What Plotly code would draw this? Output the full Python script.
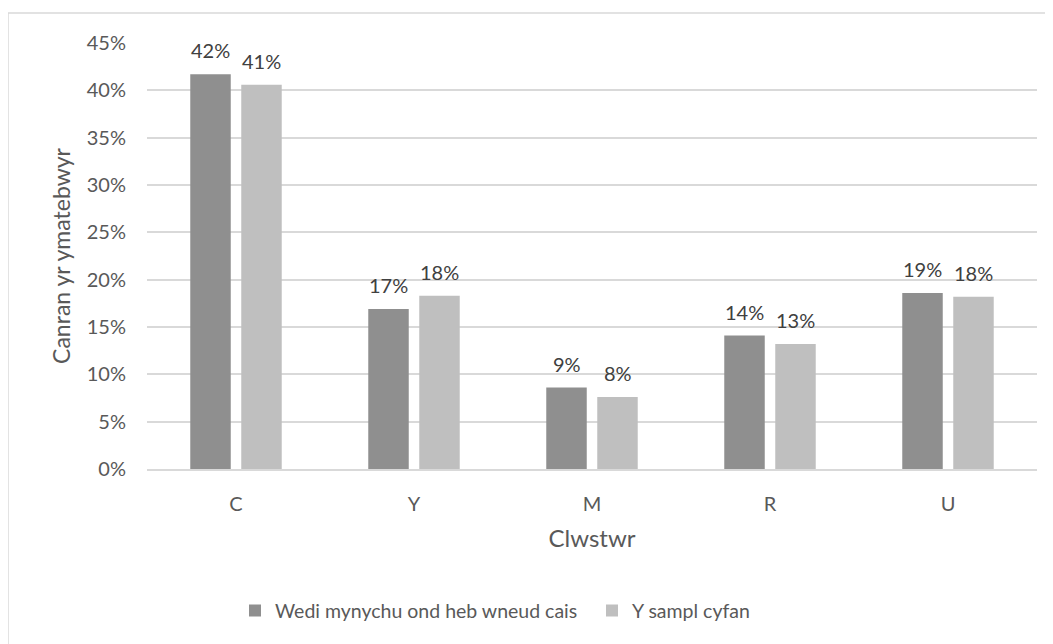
import plotly.graph_objects as go

categories = ["C", "Y", "M", "R", "U"]
series_names = ["Wedi mynychu ond heb wneud cais", "Y sampl cyfan"]
attended = [0.417, 0.169, 0.086, 0.141, 0.186]
whole_sample = [0.406, 0.183, 0.076, 0.132, 0.182]
y_ticks = [0, 0.05, 0.10, 0.15, 0.20, 0.25, 0.30, 0.35, 0.40, 0.45]

colors = ["#8f8f8f", "#bfbfbf"]
txt = "#595959"
FONT = "Lato"

fig = go.Figure()
for name, vals, col in zip(series_names, [attended, whole_sample], colors):
    fig.add_trace(go.Bar(x=categories, y=vals, name=name, marker=dict(color=col, line=dict(width=0)),
                         hoverinfo="x+y"))

annotations = []
for vals, shift in zip([attended, whole_sample], [-25.5, 25.5]):
    for c, v in zip(categories, vals):
        annotations.append(dict(x=c, y=v, xref="x", yref="y", text=f"{round(v*100)}%",
                                showarrow=False, xshift=shift, yanchor="bottom", yshift=10,
                                font=dict(family=FONT, size=20, color="#404040")))

fig.update_layout(
    width=1053, height=644,
    margin=dict(l=139, r=24, t=35, b=183),
    paper_bgcolor="white", plot_bgcolor="white",
    font=dict(family=FONT, size=20, color=txt),
    barmode="group", bargap=0.427, bargroupgap=0.206,
    showlegend=True,
    legend=dict(orientation="h", x=0.5, xanchor="center", y=-0.333, yanchor="middle",
                font=dict(family=FONT, size=19.5, color=txt), itemwidth=30, traceorder="normal",
                entrywidth=312, entrywidthmode="pixels"),
    annotations=annotations,
    shapes=[dict(type="rect", xref="paper", yref="paper", x0=-0.1562, y0=-0.6, x1=1.1, y1=1.0704,
                 line=dict(color="#d9d9d9", width=1.5), fillcolor="rgba(0,0,0,0)", layer="below")],
)
fig.update_xaxes(
    title=dict(text="Clwstwr", font=dict(family=FONT, size=24, color=txt), standoff=16),
    showgrid=False, showline=True, linecolor="#d9d9d9", linewidth=1.5,
    ticks="", ticklabelstandoff=16, tickfont=dict(family=FONT, size=20, color=txt),
)
fig.update_yaxes(
    title=dict(text="Canran yr ymatebwyr", font=dict(family=FONT, size=23, color=txt), standoff=9),
    range=[0, 0.45], tickvals=y_ticks, tickformat=".0%",
    showgrid=True, gridcolor="#d9d9d9", gridwidth=1.5, zeroline=False,
    showline=False, ticks="", ticklabelstandoff=20,
    tickfont=dict(family=FONT, size=20, color=txt),
)

fig.write_html("out.html")
